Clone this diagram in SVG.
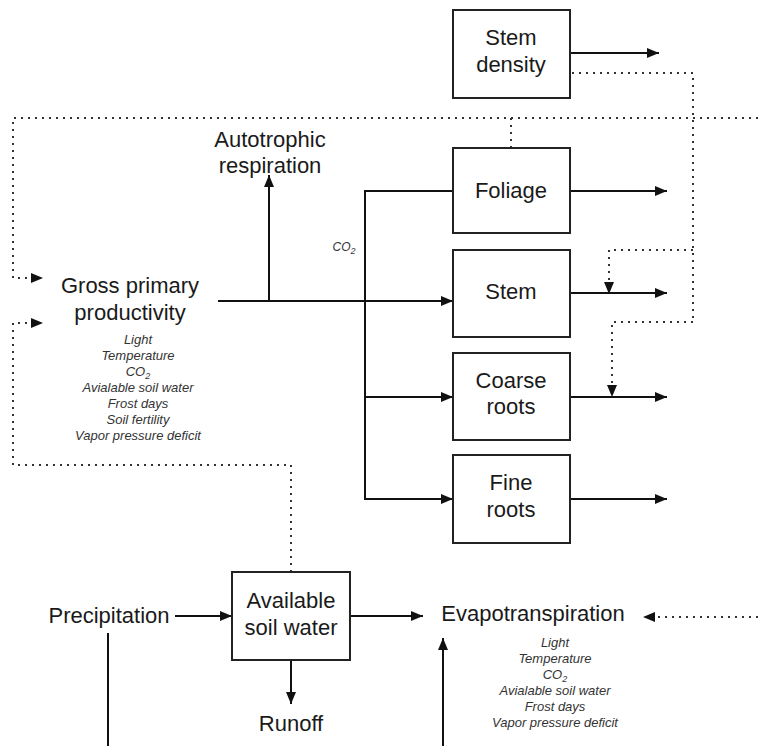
<svg xmlns="http://www.w3.org/2000/svg" width="758" height="746" viewBox="0 0 758 746">
<style>
.t{font-family:"Liberation Sans",Arial,sans-serif;font-size:22px;fill:#1a1a1a;text-anchor:middle}
.s{font-family:"Liberation Sans",Arial,sans-serif;font-size:13px;font-style:italic;fill:#333;text-anchor:middle}
.sub{font-size:9px}
.box{fill:#fff;stroke:#222;stroke-width:2}
.ln{fill:none;stroke:#111;stroke-width:2}
.dot{fill:none;stroke:#333;stroke-width:2;stroke-dasharray:2 5}
</style>
<defs>
<marker id="ah" viewBox="0 0 12 10" refX="12" refY="5" markerWidth="12" markerHeight="10" markerUnits="userSpaceOnUse" orient="auto">
<path d="M0,0 L12,5 L0,10 z" fill="#111"/>
</marker>
</defs>
<rect width="758" height="746" fill="#fff"/>
<g id="connectors">
<!-- GPP main line -->
<path class="ln" d="M218,301 H453" marker-end="url(#ah)"/>
<path class="ln" d="M269,301 V175" marker-end="url(#ah)"/>
<path class="ln" d="M453,191 H365 V499 H453" marker-end="url(#ah)"/>
<path class="ln" d="M365,397 H453" marker-end="url(#ah)"/>
<!-- outputs -->
<path class="ln" d="M570,53 H659" marker-end="url(#ah)"/>
<path class="ln" d="M570,191 H667" marker-end="url(#ah)"/>
<path class="ln" d="M570,293 H667" marker-end="url(#ah)"/>
<path class="ln" d="M570,397 H667" marker-end="url(#ah)"/>
<path class="ln" d="M570,499 H667" marker-end="url(#ah)"/>
<!-- stem density dotted -->
<path class="dot" d="M572,73 H693 V322"/>
<path class="dot" d="M693,250 H609 V282"/>
<path d="M604,282 L614,282 L609,294 z" fill="#111"/>
<path class="dot" d="M693,322 H612 V386"/>
<path d="M607,385 L617,385 L612,397 z" fill="#111"/>
<!-- top dotted -->
<path class="dot" d="M758,118 H13 V278 H31"/>
<path d="M31,273 L43,278 L31,283 z" fill="#111"/>
<path class="dot" d="M511,118 V148"/>
<!-- soil water dotted to GPP -->
<path class="dot" d="M291,572 V465 H13 V323 H31"/>
<path d="M31,318 L43,323 L31,328 z" fill="#111"/>
<!-- water -->
<path class="ln" d="M175,616 H232" marker-end="url(#ah)"/>
<path class="ln" d="M108,633 V746"/>
<path class="ln" d="M350,616 H423" marker-end="url(#ah)"/>
<path class="ln" d="M291,660 V704" marker-end="url(#ah)"/>
<path class="ln" d="M443,746 V638" marker-end="url(#ah)"/>
<path class="dot" d="M758,617 H655"/>
<path d="M655,612 L643,617 L655,622 z" fill="#111"/>
</g>
<g id="stem-density"><rect class="box" x="453" y="10" width="117" height="88"/><text class="t" x="511" y="45">Stem</text><text class="t" x="511" y="72">density</text></g>
<g id="foliage"><rect class="box" x="453" y="148" width="117" height="85"/><text class="t" x="511" y="198">Foliage</text></g>
<g id="stem"><rect class="box" x="453" y="250" width="117" height="87"/><text class="t" x="511" y="299">Stem</text></g>
<g id="coarse-roots"><rect class="box" x="453" y="353" width="117" height="87"/><text class="t" x="511" y="388">Coarse</text><text class="t" x="511" y="414">roots</text></g>
<g id="fine-roots"><rect class="box" x="453" y="455" width="117" height="88"/><text class="t" x="511" y="490">Fine</text><text class="t" x="511" y="517">roots</text></g>
<g id="autotrophic-respiration"><text class="t" x="270" y="147">Autotrophic</text><text class="t" x="270" y="173">respiration</text></g>
<g id="co2-label"><text class="s" x="344" y="251" style="font-size:12px">CO<tspan class="sub" dy="3">2</tspan></text></g>
<g id="gpp">
<text class="t" x="130" y="293">Gross primary</text><text class="t" x="130" y="320">productivity</text>
<text class="s" x="138" y="344">Light</text>
<text class="s" x="138" y="360">Temperature</text>
<text class="s" x="138" y="376">CO<tspan class="sub" dy="3">2</tspan></text>
<text class="s" x="138" y="392">Avialable soil water</text>
<text class="s" x="138" y="408">Frost days</text>
<text class="s" x="138" y="424">Soil fertility</text>
<text class="s" x="138" y="440">Vapor pressure deficit</text>
</g>
<g id="available-soil-water"><rect class="box" x="232" y="572" width="118" height="88"/><text class="t" x="291" y="608">Available</text><text class="t" x="291" y="635">soil water</text></g>
<g id="precipitation"><text class="t" x="109" y="623">Precipitation</text></g>
<g id="runoff"><text class="t" x="291" y="731">Runoff</text></g>
<g id="evapotranspiration">
<text class="t" x="533" y="621">Evapotranspiration</text>
<text class="s" x="555" y="647">Light</text>
<text class="s" x="555" y="663">Temperature</text>
<text class="s" x="555" y="679">CO<tspan class="sub" dy="3">2</tspan></text>
<text class="s" x="555" y="695">Avialable soil water</text>
<text class="s" x="555" y="711">Frost days</text>
<text class="s" x="555" y="727">Vapor pressure deficit</text>
</g>
</svg>
